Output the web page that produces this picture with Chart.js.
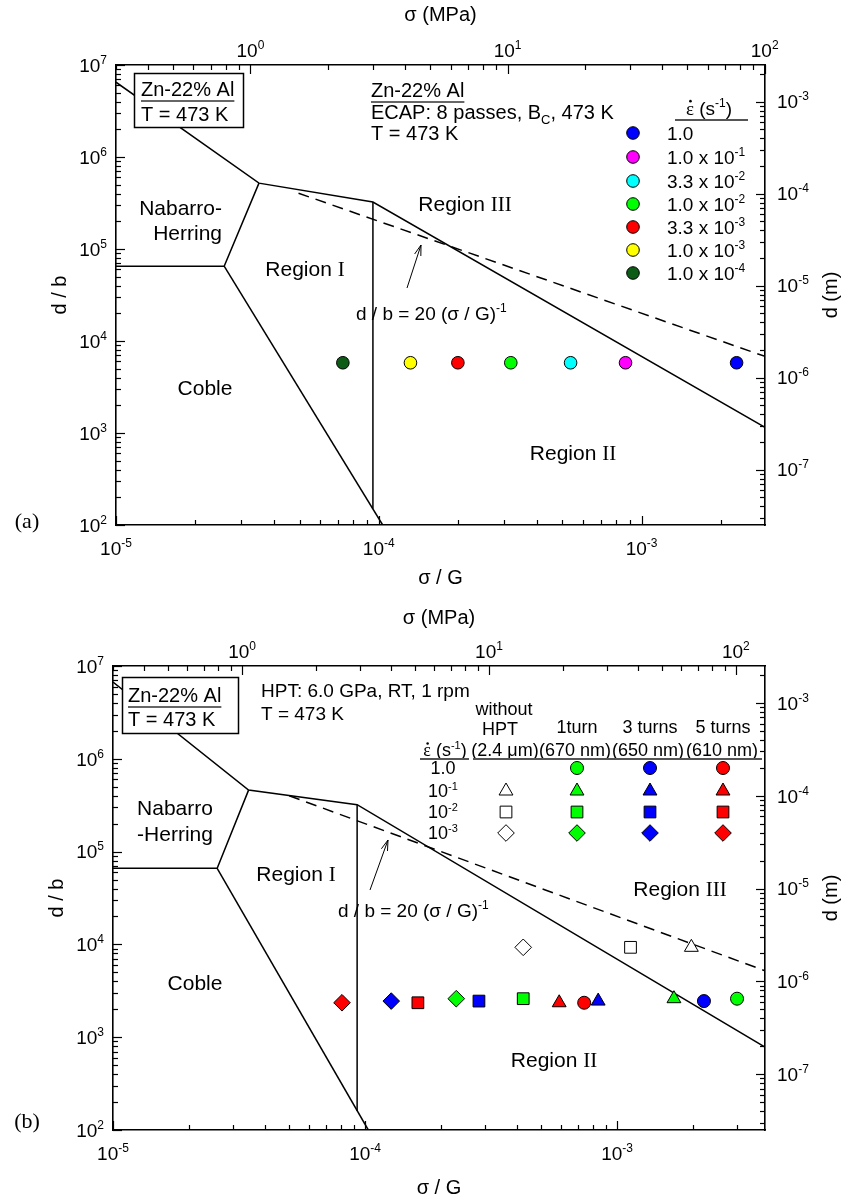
<!DOCTYPE html>
<html>
<head>
<meta charset="utf-8">
<script src="https://cdn.jsdelivr.net/npm/chart.js@4.4.1/dist/chart.umd.min.js"></script>
<style>
  html, body { margin: 0; padding: 0; background: #fff; }
  #page { position: relative; width: 846px; height: 1202px; }
  canvas { position: absolute; left: 0; }
  #chartA { top: 0; }
  #chartB { top: 600px; }
</style>
</head>
<body>
<div id="page">
  <canvas id="chartA" width="846" height="600"></canvas>
  <canvas id="chartB" width="846" height="602"></canvas>
</div>
<script>
const SANS = '"Liberation Sans", Arial, sans-serif';
const SERIF = '"Liberation Serif", "Times New Roman", serif';

// material constants for the secondary axes
const SHEAR_MODULUS = 34000;   // MPa, sigma = (sigma/G) * G
const BURGERS = 2.5e-10;       // m, d = (d/b) * b

// axis ranges (sigma/G and d/b)
const stressRangeA = [1e-5, 2.95e-3];
const stressRangeB = [1e-5, 3.86e-3];
const grainRange = [1e2, 1e7];

// deformation mechanism map, panel (a)
const upperX_A = [1.0e-5, 3.5e-5, 9.5e-5, 2.95e-3];
const upperY_A = [6.5e6, 5.2e5, 3.24e5, 1.15e3];
const nhX_A = [1.0e-5, 2.58e-5, 3.5e-5];
const nhY_A = [6.5e4, 6.5e4, 5.2e5];
const cobleX_A = [2.58e-5, 1.035e-4];
const cobleY_A = [6.5e4, 1.0e2];
const regionOneX_A = [9.5e-5, 9.5e-5];
const regionOneY_A = [3.24e5, 1.5e2];
const subgrainX_A = [4.95e-5, 2.95e-3];
const subgrainY_A = [4.04e5, 6.8e3];

// deformation mechanism map, panel (b)
const upperX_B = [1.0e-5, 3.45e-5, 9.3e-5, 3.86e-3];
const upperY_B = [6.7e6, 4.6e5, 3.2e5, 7.8e2];
const nhX_B = [1.0e-5, 2.59e-5, 3.45e-5];
const nhY_B = [6.6e4, 6.6e4, 4.6e5];
const cobleX_B = [2.59e-5, 1.03e-4];
const cobleY_B = [6.6e4, 1.0e2];
const regionOneX_B = [9.3e-5, 9.3e-5];
const regionOneY_B = [3.2e5, 1.6e2];
const subgrainX_B = [5.0e-5, 3.86e-3];
const subgrainY_B = [4.0e5, 5.2e3];

// ECAP data, panel (a)
const ecapRateText = ['1.0', '1.0 x 10', '3.3 x 10', '1.0 x 10', '3.3 x 10', '1.0 x 10', '1.0 x 10'];
const ecapRateExp = ['', '-1', '-2', '-2', '-3', '-3', '-4'];
const ecapStress = [2.30e-3, 8.69e-4, 5.37e-4, 3.18e-4, 2.0e-4, 1.32e-4, 7.3e-5];
const ecapGrain = [5.8e3, 5.8e3, 5.8e3, 5.8e3, 5.8e3, 5.8e3, 5.8e3];
const ecapColors = ['#0000ff', '#ff00ff', '#00ffff', '#00ff00', '#ff0000', '#ffff00', '#0d5c16'];

// HPT data, panel (b); rows are strain rates 1.0, 1e-1, 1e-2, 1e-3
const hptRateText = ['1.0', '10', '10', '10'];
const hptRateExp = ['', '-1', '-2', '-3'];
const hptHeads = [['without', 'HPT'], ['1turn'], ['3 turns'], ['5 turns']];
const hptSizes = ['(2.4 \u03bcm)', '(670 nm)', '(650 nm)', '(610 nm)'];
const stressNoHpt = [null, 1.97e-3, 1.13e-3, 4.24e-4];
const grainNoHpt = [null, 9.3e3, 9.3e3, 9.3e3];
const stressOneTurn = [2.99e-3, 1.68e-3, 4.24e-4, 2.30e-4];
const grainOneTurn = [2.6e3, 2.6e3, 2.6e3, 2.6e3];
const stressThreeTurns = [2.21e-3, 8.41e-4, 2.83e-4, 1.27e-4];
const grainThreeTurns = [2.45e3, 2.45e3, 2.45e3, 2.45e3];
const stressFiveTurns = [7.40e-4, 5.89e-4, 1.62e-4, 8.1e-5];
const grainFiveTurns = [2.35e3, 2.35e3, 2.35e3, 2.35e3];
const hptColors = ['#ffffff', '#00ff00', '#0000ff', '#ff0000'];
const hptShapes = ['circle', 'triangle', 'rect', 'rectRot'];
const hptRadius = [6.5, 8, 8.3, 8.3];

const SUP = { '-': '\u207b', '0': '\u2070', '1': '\u00b9', '2': '\u00b2', '3': '\u00b3',
  '4': '\u2074', '5': '\u2075', '6': '\u2076', '7': '\u2077', '8': '\u2078', '9': '\u2079' };

function logTicks(scale) {
  const ticks = [];
  const lo = Math.floor(Math.log10(scale.min) + 1e-9);
  const hi = Math.ceil(Math.log10(scale.max) - 1e-9);
  for (let e = lo; e <= hi; e++) {
    for (let k = 1; k <= 9; k++) {
      const v = Number(k + 'e' + e);
      if (v >= scale.min * 0.999 && v <= scale.max * 1.001) ticks.push({ value: v, major: k === 1 });
    }
  }
  scale.ticks = ticks;
}

function decadeLabel(value, index, ticks) {
  if (!ticks[index] || !ticks[index].major) return '';
  const e = Math.round(Math.log10(value));
  return '10' + String(e).split('').map((c) => SUP[c]).join('');
}

function logAxis(position, min, max, box, title) {
  return {
    type: 'logarithmic',
    position: position,
    min: min,
    max: max,
    grid: { display: false, drawTicks: false },
    border: { display: true, color: '#000', width: 1.6 },
    // labels are generated by Chart.js, drawn with a raised exponent by the tickMarks plugin
    ticks: { display: false, autoSkip: false, callback: decadeLabel },
    afterBuildTicks: logTicks,
    afterFit: (s) => {
      if (s.isHorizontal()) s.height = box;
      else s.width = box;
    },
    title: title || { display: false },
  };
}

function axisTitle(text, padding) {
  return { display: true, text: text, color: '#000', font: { family: SANS, size: 20 }, padding: padding };
}

function lineSet(xs, ys, dashed) {
  return {
    data: xs.map((x, i) => ({ x: x, y: ys[i] })),
    showLine: true, fill: false, borderColor: '#000', borderWidth: 1.5,
    borderDash: dashed ? [11, 7] : [], pointRadius: 0, order: 1,
  };
}

// ---------- text helpers ----------
// parts: [text, mode, family]; mode '' | 'sup' | 'sub' | 'dot' (letter with a dot above)
function rich(ctx, parts, x, y, size, align) {
  const fontFor = (p) => (p[1] === 'sup' || p[1] === 'sub' ? Math.round(size * 0.63) : size) + 'px ' + (p[2] || SANS);
  let w = 0;
  parts.forEach((p) => { ctx.font = fontFor(p); w += ctx.measureText(p[0]).width; });
  let cx = align === 'center' ? x - w / 2 : align === 'right' ? x - w : x;
  const left = cx;
  ctx.textAlign = 'left';
  ctx.textBaseline = 'alphabetic';
  const base = y + size * 0.36;
  parts.forEach((p) => {
    ctx.font = fontFor(p);
    const dy = p[1] === 'sup' ? -size * 0.42 : p[1] === 'sub' ? size * 0.22 : 0;
    const tw = ctx.measureText(p[0]).width;
    ctx.fillText(p[0], cx, base + dy);
    if (p[1] === 'dot') {
      ctx.beginPath();
      ctx.arc(cx + tw / 2 + 0.5, base - size * 0.72, size * 0.07, 0, Math.PI * 2);
      ctx.fill();
    }
    cx += tw;
  });
  return { left: left, width: w };
}

function hline(ctx, x1, x2, y, w, color) {
  ctx.save();
  ctx.strokeStyle = color || '#333';
  ctx.lineWidth = w || 1.5;
  ctx.beginPath();
  ctx.moveTo(x1, y);
  ctx.lineTo(x2, y);
  ctx.stroke();
  ctx.restore();
}

function arrow(ctx, x1, y1, x2, y2) {
  ctx.save();
  ctx.strokeStyle = '#000';
  ctx.lineWidth = 1;
  ctx.beginPath();
  ctx.moveTo(x1, y1);
  ctx.lineTo(x2, y2);
  const ang = Math.atan2(y2 - y1, x2 - x1);
  ctx.moveTo(x2 - 11 * Math.cos(ang - 0.3), y2 - 11 * Math.sin(ang - 0.3));
  ctx.lineTo(x2, y2);
  ctx.lineTo(x2 - 11 * Math.cos(ang + 0.3), y2 - 11 * Math.sin(ang + 0.3));
  ctx.stroke();
  ctx.restore();
}

function marker(ctx, style, radius, color, x, y) {
  ctx.save();
  ctx.fillStyle = color;
  ctx.strokeStyle = '#000';
  ctx.lineWidth = 1;
  Chart.helpers.drawPoint(ctx, { pointStyle: style, radius: radius, rotation: 0, borderWidth: 1 }, x, y);
  ctx.restore();
}

function rotatedTitle(ctx, text, x, y) {
  ctx.save();
  ctx.translate(x, y);
  ctx.rotate(-Math.PI / 2);
  ctx.fillStyle = '#000';
  rich(ctx, [[text]], 0, 0, 20, 'center');
  ctx.restore();
}

// ---------- inward tick marks and decade labels on all four axes ----------
const tickMarks = {
  id: 'tickMarks',
  afterDraw(chart) {
    const ctx = chart.ctx;
    const a = chart.chartArea;
    ctx.save();
    ctx.strokeStyle = '#000';
    ctx.fillStyle = '#000';
    ctx.lineWidth = 1.2;
    Object.values(chart.scales).forEach((s) => {
      s.ticks.forEach((t) => {
        const len = t.major ? 9 : 5;
        const raw = s.getPixelForValue(t.value);
        const p = Math.round(raw) + 0.5;
        ctx.beginPath();
        if (s.position === 'left') { ctx.moveTo(a.left, p); ctx.lineTo(a.left + len, p); }
        else if (s.position === 'right') { ctx.moveTo(a.right, p); ctx.lineTo(a.right - len, p); }
        else if (s.position === 'top') { ctx.moveTo(p, a.top); ctx.lineTo(p, a.top + len); }
        else { ctx.moveTo(p, a.bottom); ctx.lineTo(p, a.bottom - len); }
        ctx.stroke();
        if (!t.major) return;
        const parts = [['10'], [String(Math.round(Math.log10(t.value))), 'sup']];
        if (s.position === 'left') rich(ctx, parts, a.left - 9, raw, 19, 'right');
        else if (s.position === 'right') rich(ctx, parts, a.right + 12, raw, 19, 'left');
        else if (s.position === 'top') rich(ctx, parts, raw, a.top - 15, 19, 'center');
        else rich(ctx, parts, raw, a.bottom + 23, 19, 'center');
      });
    });
    ctx.restore();
  },
};

// ---------- panel (a) labels ----------
const panelALabels = {
  id: 'panelALabels',
  afterDatasetsDraw(chart) {
    const ctx = chart.ctx;
    const a = chart.chartArea;
    ctx.save();
    ctx.fillStyle = '#fff';
    ctx.fillRect(134, 73, 109, 54);
    ctx.strokeStyle = '#000';
    ctx.lineWidth = 1.5;
    ctx.strokeRect(134.5, 73.5, 109, 54);
    ctx.fillStyle = '#000';
    let r = rich(ctx, [['Zn-22% Al']], 141, 89, 20, 'left');
    hline(ctx, r.left, r.left + r.width, 101);
    rich(ctx, [['T = 473 K']], 141, 114, 20, 'left');

    r = rich(ctx, [['Zn-22% Al']], 371, 90, 20, 'left');
    hline(ctx, r.left, r.left + r.width, 102);
    rich(ctx, [['ECAP: 8 passes, B'], ['C', 'sub'], [', 473 K']], 371, 112, 20, 'left');
    rich(ctx, [['T = 473 K']], 371, 133, 20, 'left');

    rich(ctx, [['\u03b5', 'dot', SERIF], [' (s'], ['-1', 'sup'], [')']], 709, 108, 19, 'center');
    hline(ctx, 675, 748, 120, 2, '#555');
    const rows = [133, 157, 181, 204, 227, 250, 273];
    chart.data.datasets.slice(0, ecapRateText.length).forEach((ds, i) => {
      marker(ctx, 'circle', 6.3, ds.backgroundColor, 633, rows[i]);
      rich(ctx, [[ecapRateText[i]], [ecapRateExp[i], 'sup']], 667, rows[i], 19, 'left');
    });

    rich(ctx, [['Nabarro-']], 222, 207, 21, 'right');
    rich(ctx, [['Herring']], 222, 232, 21, 'right');
    rich(ctx, [['Region '], ['I', '', SERIF]], 305, 268, 21, 'center');
    rich(ctx, [['Region '], ['III', '', SERIF]], 465, 203, 21, 'center');
    rich(ctx, [['Region '], ['II', '', SERIF]], 573, 452, 21, 'center');
    rich(ctx, [['Coble']], 205, 387, 21, 'center');
    rich(ctx, [['d / b = 20 (\u03c3 / G)'], ['-1', 'sup']], 356, 313, 19, 'left');
    arrow(ctx, 407, 288, 421, 245);

    rich(ctx, [['(a)', '', SERIF]], 27, 520, 22, 'center');
    rotatedTitle(ctx, 'd (m)', 830, (a.top + a.bottom) / 2);
    ctx.restore();
  },
};

// ---------- panel (b) labels ----------
const panelBLabels = {
  id: 'panelBLabels',
  afterDatasetsDraw(chart) {
    const ctx = chart.ctx;
    const a = chart.chartArea;
    ctx.save();
    ctx.fillStyle = '#fff';
    ctx.fillRect(122, 77, 116, 56);
    ctx.strokeStyle = '#000';
    ctx.lineWidth = 1.5;
    ctx.strokeRect(122.5, 77.5, 116, 56);
    ctx.fillStyle = '#000';
    const r = rich(ctx, [['Zn-22% Al']], 128, 95, 20, 'left');
    hline(ctx, r.left, r.left + r.width, 107);
    rich(ctx, [['T = 473 K']], 128, 119, 20, 'left');

    rich(ctx, [['HPT: 6.0 GPa, RT, 1 rpm']], 261, 90, 19, 'left');
    rich(ctx, [['T = 473 K']], 261, 113, 19, 'left');

    // table legend
    const cols = [506, 577, 650, 723];
    const rows = [168, 191, 212, 233];
    rich(ctx, [[hptHeads[0][0]]], 504, 109, 18, 'center');
    rich(ctx, [[hptHeads[0][1]]], 500, 129, 18, 'center');
    for (let c = 1; c < 4; c++) rich(ctx, [[hptHeads[c][0]]], cols[c], 127, 18, 'center');
    rich(ctx, [['\u03b5', 'dot', SERIF], [' (s'], ['-1', 'sup'], [')']], 445, 150, 18, 'center');
    const sizeCentres = [505, 575, 648, 722];
    hptSizes.forEach((t, c) => rich(ctx, [[t]], sizeCentres[c], 150, 18, 'center'));
    hline(ctx, 420, 469, 159, 2, '#555');
    hline(ctx, 473, 762, 159, 2, '#555');
    for (let i = 0; i < 4; i++) {
      rich(ctx, [[hptRateText[i]], [hptRateExp[i], 'sup']], 443, rows[i], 18, 'center');
    }
    chart.data.datasets.slice(0, 4).forEach((ds, c) => {
      ds.data.forEach((p, i) => {
        marker(ctx, ds.pointStyle[i], ds.pointRadius[i], ds.backgroundColor, cols[c], rows[ds.rowIndex[i]]);
      });
    });

    rich(ctx, [['Nabarro']], 175, 207, 21, 'center');
    rich(ctx, [['-Herring']], 175, 233, 21, 'center');
    rich(ctx, [['Region '], ['I', '', SERIF]], 296, 273, 21, 'center');
    rich(ctx, [['Region '], ['III', '', SERIF]], 680, 288, 21, 'center');
    rich(ctx, [['Region '], ['II', '', SERIF]], 554, 459, 21, 'center');
    rich(ctx, [['Coble']], 195, 382, 21, 'center');
    rich(ctx, [['d / b = 20 (\u03c3 / G)'], ['-1', 'sup']], 338, 310, 19, 'left');
    arrow(ctx, 370, 290, 388, 240);

    rich(ctx, [['(b)', '', SERIF]], 27, 520, 22, 'center');
    rotatedTitle(ctx, 'd (m)', 830, (a.top + a.bottom) / 2);
    ctx.restore();
  },
};

const baseOptions = {
  responsive: false,
  animation: false,
  layout: { padding: 0 },
  plugins: { legend: { display: false }, tooltip: { enabled: false } },
};

// ---------- panel (a) ----------
const ecapSets = ecapStress.map((s, i) => ({
  data: [{ x: s, y: ecapGrain[i] }],
  showLine: false, pointStyle: 'circle', pointRadius: 6.3,
  backgroundColor: ecapColors[i], borderColor: '#000', borderWidth: 1, order: 0,
}));

new Chart(document.getElementById('chartA'), {
  type: 'scatter',
  data: {
    datasets: ecapSets.concat([
      lineSet(upperX_A, upperY_A),
      lineSet(nhX_A, nhY_A),
      lineSet(cobleX_A, cobleY_A),
      lineSet(regionOneX_A, regionOneY_A),
      lineSet(subgrainX_A, subgrainY_A, true),
    ]),
  },
  options: Object.assign({}, baseOptions, {
    scales: {
      x: logAxis('bottom', stressRangeA[0], stressRangeA[1], 75, axisTitle('\u03c3 / G', { top: 0, bottom: 10 })),
      x2: logAxis('top', stressRangeA[0] * SHEAR_MODULUS, stressRangeA[1] * SHEAR_MODULUS, 65, axisTitle('\u03c3 (MPa)', { top: 3, bottom: 0 })),
      y: logAxis('left', grainRange[0], grainRange[1], 116, axisTitle('d / b', { top: 48, bottom: 0 })),
      y2: logAxis('right', grainRange[0] * BURGERS, grainRange[1] * BURGERS, 81),
    },
  }),
  plugins: [tickMarks, panelALabels],
});

// ---------- panel (b) ----------
function hptSet(stress, grain, color) {
  const pts = [], styles = [], radii = [], rowIndex = [];
  stress.forEach((s, i) => {
    if (s === null) return;
    pts.push({ x: s, y: grain[i] });
    styles.push(hptShapes[i]);
    radii.push(hptRadius[i]);
    rowIndex.push(i);
  });
  return {
    data: pts, showLine: false, pointStyle: styles, pointRadius: radii, rowIndex: rowIndex,
    backgroundColor: color, borderColor: '#000', borderWidth: 1, order: 0,
  };
}

new Chart(document.getElementById('chartB'), {
  type: 'scatter',
  data: {
    datasets: [
      hptSet(stressNoHpt, grainNoHpt, hptColors[0]),
      hptSet(stressOneTurn, grainOneTurn, hptColors[1]),
      hptSet(stressThreeTurns, grainThreeTurns, hptColors[2]),
      hptSet(stressFiveTurns, grainFiveTurns, hptColors[3]),
      lineSet(upperX_B, upperY_B),
      lineSet(nhX_B, nhY_B),
      lineSet(cobleX_B, cobleY_B),
      lineSet(regionOneX_B, regionOneY_B),
      lineSet(subgrainX_B, subgrainY_B, true),
    ],
  },
  options: Object.assign({}, baseOptions, {
    scales: {
      x: logAxis('bottom', stressRangeB[0], stressRangeB[1], 72, axisTitle('\u03c3 / G', { top: 0, bottom: 2 })),
      x2: logAxis('top', stressRangeB[0] * SHEAR_MODULUS, stressRangeB[1] * SHEAR_MODULUS, 66, axisTitle('\u03c3 (MPa)', { top: 6, bottom: 0 })),
      y: logAxis('left', grainRange[0], grainRange[1], 113, axisTitle('d / b', { top: 45, bottom: 0 })),
      y2: logAxis('right', grainRange[0] * BURGERS, grainRange[1] * BURGERS, 81),
    },
  }),
  plugins: [tickMarks, panelBLabels],
});
</script>
</body>
</html>
